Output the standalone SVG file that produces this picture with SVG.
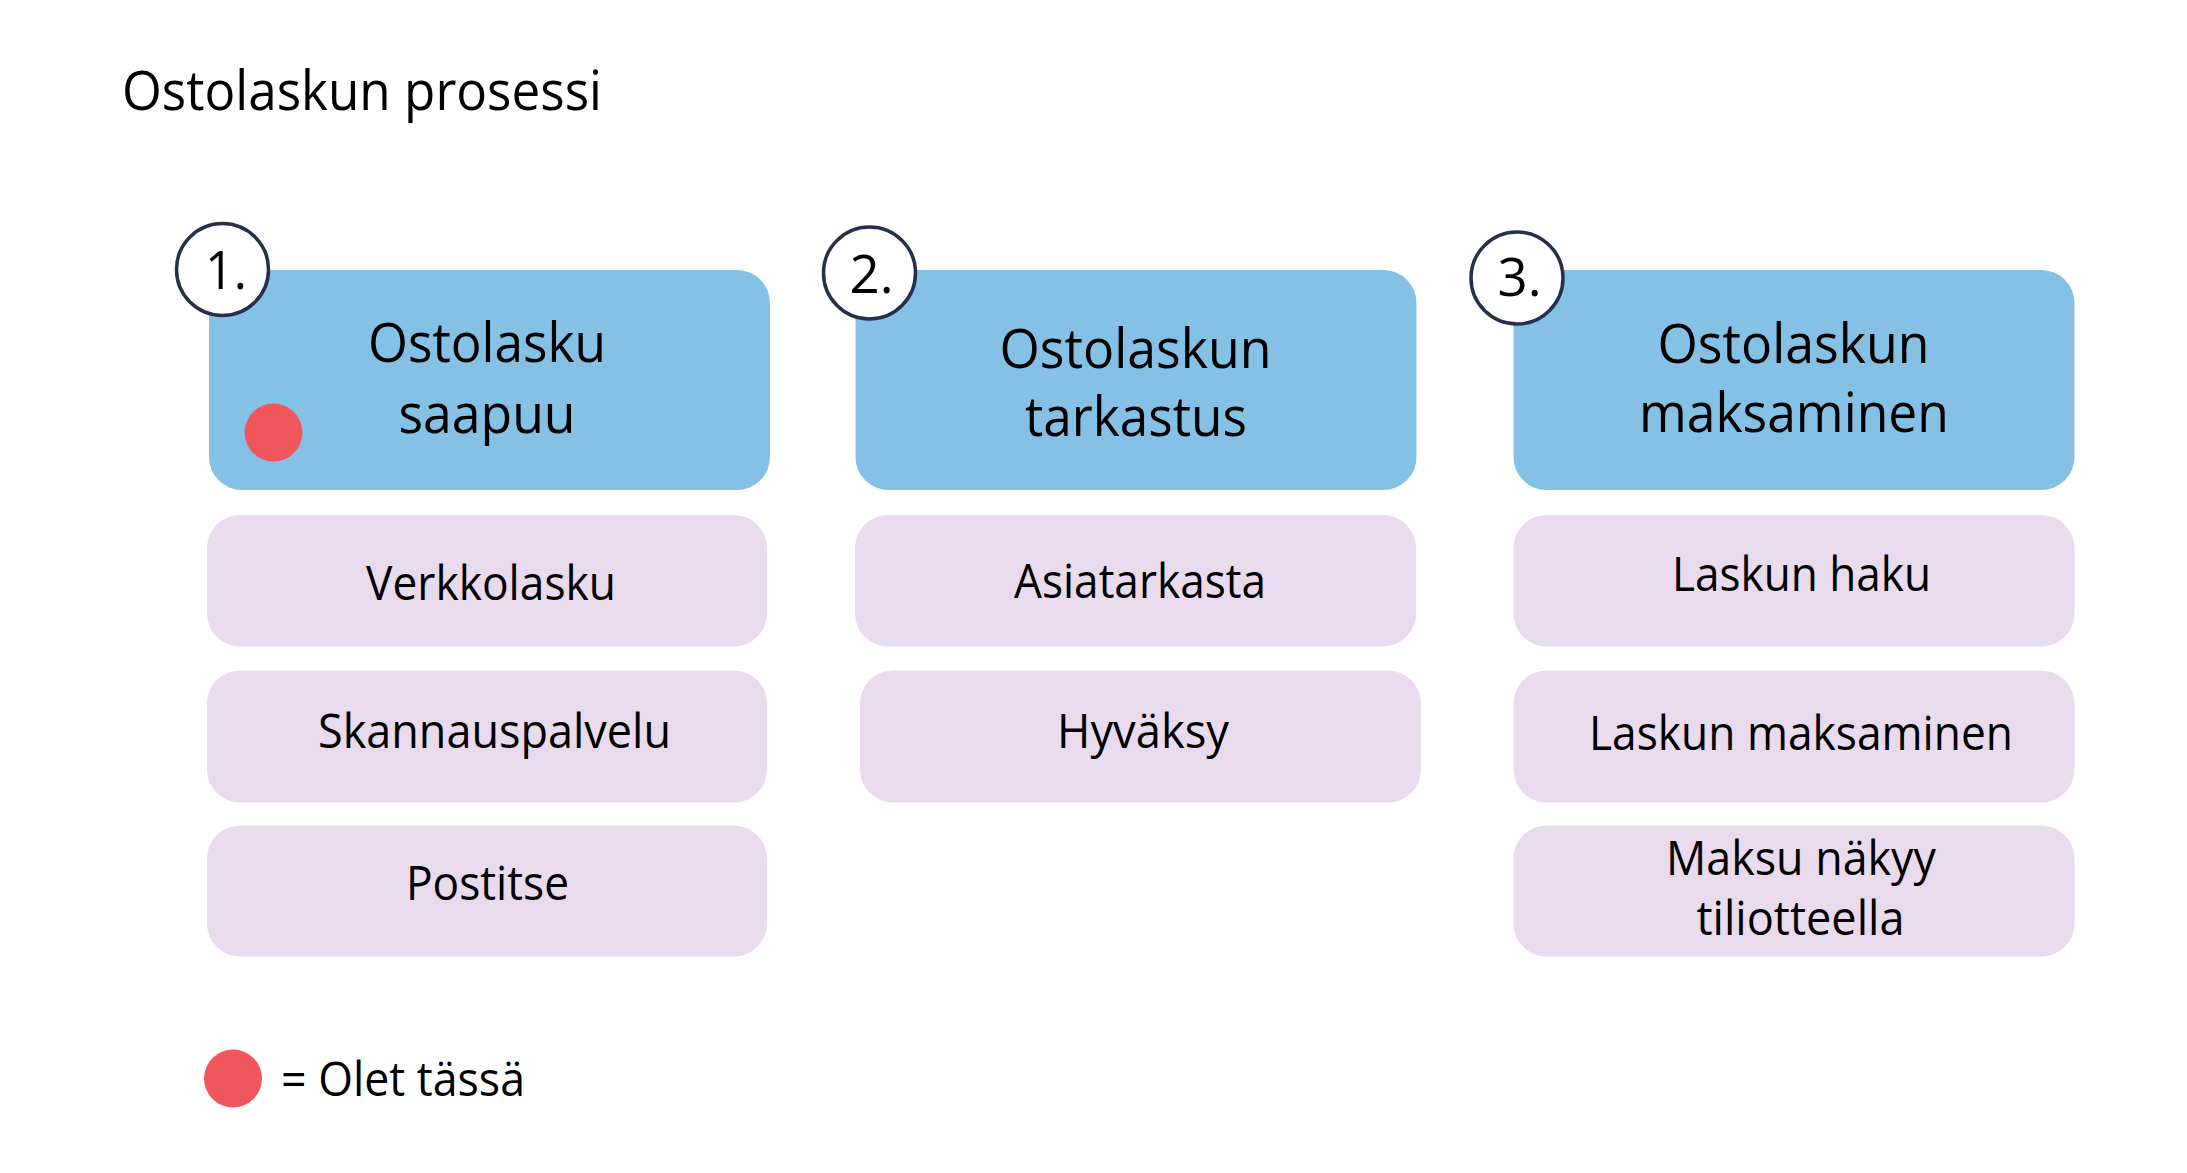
<svg xmlns="http://www.w3.org/2000/svg" width="2187" height="1173" viewBox="0 0 2187 1173">
  <style>
    text { font-family: "Open Sans", "Noto Sans", "Liberation Sans", sans-serif; fill: #000000; text-anchor: middle; }
    .title { font-size: 54px; }
    .head { font-size: 54px; }
    .item { font-size: 47px; }
    .num { font-size: 53px; }
    .hbox { fill: #84c1e5; }
    .ibox { fill: #e9dbed; }
    .badge { fill: #ffffff; stroke: #262f4d; stroke-width: 3.5; }
    .dot { fill: #f0575c; }
  </style>

  <rect width="2187" height="1173" fill="#ffffff"/>

  <g id="title">
    <text class="title" x="362" y="110" textLength="480" lengthAdjust="spacingAndGlyphs">Ostolaskun prosessi</text>
  </g>

  <g id="connectors"/>

  <!-- Column 1 -->
  <g id="step1">
    <rect class="hbox" x="209" y="270" width="561" height="220" rx="33" ry="33"/>
    <text class="head" x="487" y="362" textLength="238" lengthAdjust="spacingAndGlyphs">Ostolasku</text>
    <text class="head" x="487" y="433" textLength="177" lengthAdjust="spacingAndGlyphs">saapuu</text>
    <circle class="dot" cx="273.5" cy="432.5" r="29"/>
  </g>
  <g id="badge1">
    <circle class="badge" cx="222.5" cy="269.5" r="46"/>
    <text class="num" x="226" y="289" textLength="42" lengthAdjust="spacingAndGlyphs">1.</text>
  </g>
  <g id="verkkolasku">
    <rect class="ibox" x="207" y="515" width="560" height="131.5" rx="33" ry="33"/>
    <text class="item" x="491" y="599.5" textLength="250" lengthAdjust="spacingAndGlyphs">Verkkolasku</text>
  </g>
  <g id="skannauspalvelu">
    <rect class="ibox" x="207" y="670.5" width="560" height="132" rx="33" ry="33"/>
    <text class="item" x="494.5" y="748" textLength="353" lengthAdjust="spacingAndGlyphs">Skannauspalvelu</text>
  </g>
  <g id="postitse">
    <rect class="ibox" x="207" y="825.5" width="560" height="131" rx="33" ry="33"/>
    <text class="item" x="487.5" y="900" textLength="163" lengthAdjust="spacingAndGlyphs">Postitse</text>
  </g>

  <!-- Column 2 -->
  <g id="step2">
    <rect class="hbox" x="855.5" y="270" width="561" height="220" rx="33" ry="33"/>
    <text class="head" x="1135.5" y="367.5" textLength="272" lengthAdjust="spacingAndGlyphs">Ostolaskun</text>
    <text class="head" x="1136" y="436" textLength="222" lengthAdjust="spacingAndGlyphs">tarkastus</text>
  </g>
  <g id="badge2">
    <circle class="badge" cx="869.5" cy="273" r="46"/>
    <text class="num" x="871.5" y="292.5" textLength="44" lengthAdjust="spacingAndGlyphs">2.</text>
  </g>
  <g id="asiatarkasta">
    <rect class="ibox" x="855" y="515" width="561" height="131.5" rx="33" ry="33"/>
    <text class="item" x="1140" y="598" textLength="252" lengthAdjust="spacingAndGlyphs">Asiatarkasta</text>
  </g>
  <g id="hyvaksy">
    <rect class="ibox" x="860" y="670.5" width="561" height="132" rx="33" ry="33"/>
    <text class="item" x="1143" y="748" textLength="172" lengthAdjust="spacingAndGlyphs">Hyväksy</text>
  </g>

  <!-- Column 3 -->
  <g id="step3">
    <rect class="hbox" x="1513.5" y="270" width="561" height="220" rx="33" ry="33"/>
    <text class="head" x="1793.5" y="363" textLength="272" lengthAdjust="spacingAndGlyphs">Ostolaskun</text>
    <text class="head" x="1794" y="432" textLength="310" lengthAdjust="spacingAndGlyphs">maksaminen</text>
  </g>
  <g id="badge3">
    <circle class="badge" cx="1517" cy="278" r="46"/>
    <text class="num" x="1519.5" y="296" textLength="44" lengthAdjust="spacingAndGlyphs">3.</text>
  </g>
  <g id="laskun-haku">
    <rect class="ibox" x="1513.5" y="515" width="561" height="131.5" rx="33" ry="33"/>
    <text class="item" x="1801.5" y="591" textLength="259" lengthAdjust="spacingAndGlyphs">Laskun haku</text>
  </g>
  <g id="laskun-maksaminen">
    <rect class="ibox" x="1513.5" y="670.5" width="561" height="132" rx="33" ry="33"/>
    <text class="item" x="1801" y="750" textLength="424" lengthAdjust="spacingAndGlyphs">Laskun maksaminen</text>
  </g>
  <g id="maksu-nakyy">
    <rect class="ibox" x="1513.5" y="825.5" width="561" height="131" rx="33" ry="33"/>
    <text class="item" x="1801" y="874.5" textLength="270" lengthAdjust="spacingAndGlyphs">Maksu näkyy</text>
    <text class="item" x="1800.5" y="935" textLength="208" lengthAdjust="spacingAndGlyphs">tiliotteella</text>
  </g>

  <!-- Legend -->
  <g id="legend">
    <circle class="dot" cx="233" cy="1078.5" r="29"/>
    <text class="item" x="403" y="1096" textLength="244" lengthAdjust="spacingAndGlyphs">= Olet tässä</text>
  </g>
</svg>
